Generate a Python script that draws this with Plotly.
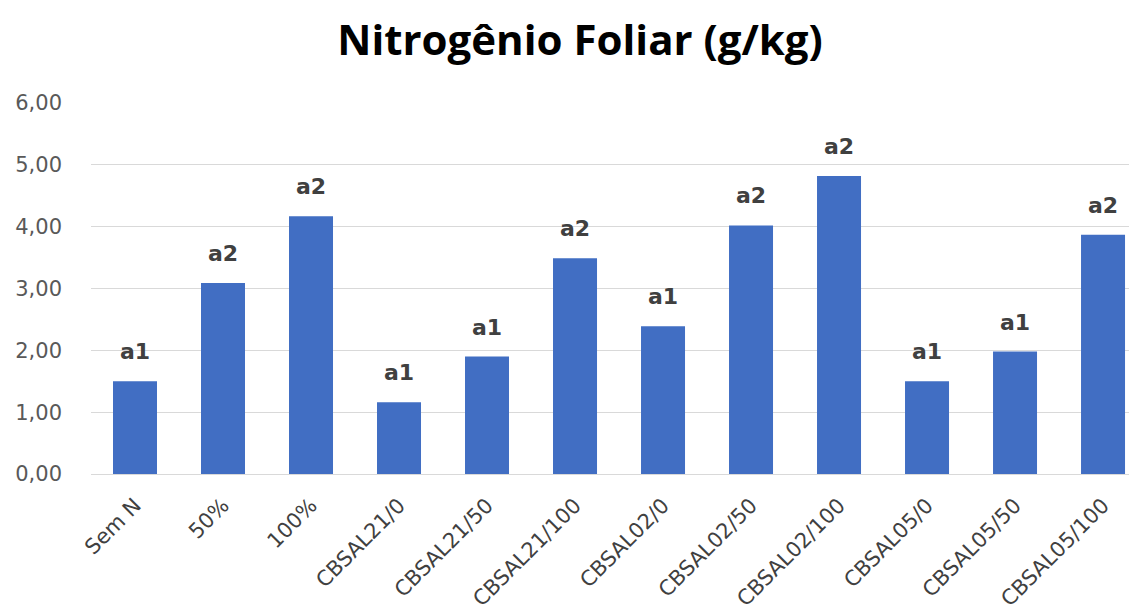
import plotly.graph_objects as go

categories = ["Sem N", "50%", "100%", "CBSAL21/0", "CBSAL21/50", "CBSAL21/100",
              "CBSAL02/0", "CBSAL02/50", "CBSAL02/100", "CBSAL05/0", "CBSAL05/50", "CBSAL05/100"]
values = [1.50, 3.09, 4.17, 1.16, 1.90, 3.49, 2.39, 4.02, 4.82, 1.50, 1.98, 3.87]
letters = ["a1", "a2", "a2", "a1", "a1", "a2", "a1", "a2", "a2", "a1", "a1", "a2"]
y_ticks = [0, 1, 2, 3, 4, 5, 6]

fig = go.Figure()
fig.add_trace(go.Bar(
    x=categories, y=values,
    marker=dict(color="#416EC3", line=dict(width=0)),
    hoverinfo="skip",
))

for c, v, t in zip(categories, values, letters):
    fig.add_annotation(x=c, y=v, text=t, showarrow=False, yanchor="bottom", yshift=15,
                       font=dict(family="DejaVu Sans", size=22, color="#404040", weight="bold"))

fig.update_layout(
    width=1129, height=604,
    paper_bgcolor="white", plot_bgcolor="white",
    margin=dict(l=83, r=0, t=95, b=138, autoexpand=False),
    separators=",.",
    bargap=0.5,
    showlegend=False,
    title=dict(text="<b>Nitrogênio Foliar (g/kg)</b>", x=0.5067, xanchor="center", xref="container",
               y=0.946, yanchor="middle", yref="container",
               font=dict(family="Open Sans", size=42, color="#000000")),
    xaxis=dict(range=[-0.5, 11.386], tickangle=-45, showgrid=False, showline=False, ticks="",
               ticklabelstandoff=14,
               tickfont=dict(family="DejaVu Sans", size=21, color="#404040")),
    yaxis=dict(range=[0, 6], tickvals=y_ticks, tickformat=".2f", showgrid=True, gridcolor="#d9d9d9",
               gridwidth=1, zeroline=True, zerolinecolor="#d9d9d9", zerolinewidth=1, showline=False,
               ticks="", ticklabelstandoff=28,
               tickfont=dict(family="DejaVu Sans", size=21, color="#595959")),
)

fig.write_html("out.html")
